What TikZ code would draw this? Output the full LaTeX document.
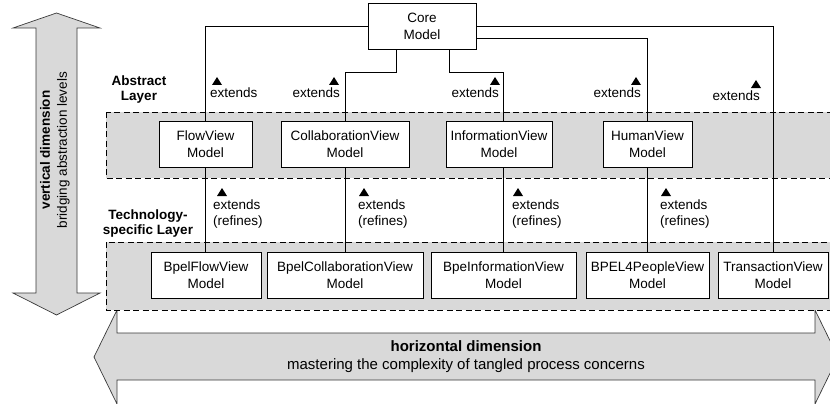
\documentclass[tikz,border=0pt]{standalone}
\usepackage{fontspec}
\setmainfont{Liberation Sans}
\definecolor{layergray}{HTML}{D9D9D9}
\definecolor{arrowline}{HTML}{3A3A3A}
\newcommand\mytri[1]{\fill (#1) ++(-5,4) -- ++(10,0) -- ++(-5,-8) -- cycle;}
\begin{document}
\begin{tikzpicture}[x=1pt,y=-1pt,
  box/.style={draw=black,line width=0.9pt,fill=white,minimum height=46pt,inner sep=0pt,align=center,font=\fontsize{13.5}{17}\selectfont},
  layer/.style={draw=black,dash pattern=on 6pt off 3.5pt,fill=layergray,line width=0.8pt},
  conn/.style={draw=black,line width=0.8pt},
  lbl/.style={font=\fontsize{13.5}{16}\selectfont,inner sep=0pt,align=left},
  layerlbl/.style={font=\fontsize{13.5}{15}\selectfont\bfseries,inner sep=0pt,align=center},
  bigarrow/.style={draw=arrowline,fill=layergray,line width=0.7pt,line join=miter}]
\useasboundingbox (0,0) rectangle (830,404);
\clip (0,0) rectangle (830,404);
% big arrows
\draw[bigarrow] (56.5,13) -- (100,28) -- (77,28) -- (77,293) -- (100,293) -- (56.5,315)
  -- (13,293) -- (36,293) -- (36,28) -- (13,28) -- cycle;
\draw[bigarrow] (94,357) -- (117,310) -- (117,333) -- (815,333) -- (815,310) -- (838,357)
  -- (815,404) -- (815,380) -- (117,380) -- (117,404) -- cycle;
\node[rotate=90,align=center,inner sep=0pt,font=\fontsize{13.5}{17}\selectfont] (vdim) at (55,150)
  {\textbf{vertical dimension}\\bridging abstraction levels};
\node[align=center,inner sep=0pt,font=\fontsize{15}{18}\selectfont] (hdim) at (466,357)
  {\textbf{horizontal dimension}\\mastering the complexity of tangled process concerns};
% layers
\draw[layer] (106,112) rectangle (845,178);
\draw[layer] (106,242) rectangle (845,310);
\node[layerlbl] (abs) at (139,89.5) {Abstract\\Layer};
\node[layerlbl] (tech) at (148,223.5) {Technology-\\specific Layer};
% boxes
\node[box,minimum width=108pt] (core) at (422,26) {Core\\Model};
\node[box,minimum width=93pt] (flow) at (205.5,144) {FlowView\\Model};
\node[box,minimum width=128pt] (collab) at (345,144) {CollaborationView\\Model};
\node[box,minimum width=106pt] (info) at (499,144) {InformationView\\Model};
\node[box,minimum width=89pt] (human) at (647.5,144) {HumanView\\Model};
\node[box,minimum width=110pt] (bflow) at (206,275) {BpelFlowView\\Model};
\node[box,minimum width=156pt] (bcollab) at (345,275) {BpelCollaborationView\\Model};
\node[box,minimum width=145pt] (binfo) at (503.5,275) {BpeInformationView\\Model};
\node[box,minimum width=123pt] (bpeople) at (647.5,275) {BPEL4PeopleView\\Model};
\node[box,minimum width=110pt] (btrans) at (773,275) {TransactionView\\Model};
% connectors
\draw[conn] (core.west) -| (flow.north);
\draw[conn] ([xshift=-26pt]core.south) -- ++(0,23) -| (collab.north);
\draw[conn] ([xshift=27pt]core.south) -- ++(0,23) -| ([xshift=4pt]info.north);
\draw[conn] ([yshift=-12pt]core.east) -| (human.north);
\draw[conn] (core.east) -| (btrans.north);
\draw[conn] (flow.south) -- (flow.south |- bflow.north);
\draw[conn] (collab.south) -- (bcollab.north);
\draw[conn] ([xshift=4pt]info.south) -- ([xshift=4pt]info.south |- binfo.north);
\draw[conn] (human.south) -- (bpeople.north);
% extends labels (top)
\node[lbl,anchor=west] (e1) at (210,93) {extends};
\node[lbl,anchor=east] (e2) at (340,93) {extends};
\node[lbl,anchor=east] (e3) at (499,93) {extends};
\node[lbl,anchor=east] (e4) at (641,93) {extends};
\node[lbl,anchor=east] (e5) at (760,96) {extends};
\mytri{217,81}
\mytri{334,81}
\mytri{495,81}
\mytri{636,81}
\mytri{756,84}
% extends (refines) labels
\node[lbl,anchor=west] (r1) at (213,214.5) {extends\\(refines)};
\node[lbl,anchor=west] (r2) at (358,214.5) {extends\\(refines)};
\node[lbl,anchor=west] (r3) at (512,214.5) {extends\\(refines)};
\node[lbl,anchor=west] (r4) at (660,214.5) {extends\\(refines)};
\mytri{222,192}
\mytri{364,192}
\mytri{518,192}
\mytri{666,192}
\end{tikzpicture}
\end{document}
